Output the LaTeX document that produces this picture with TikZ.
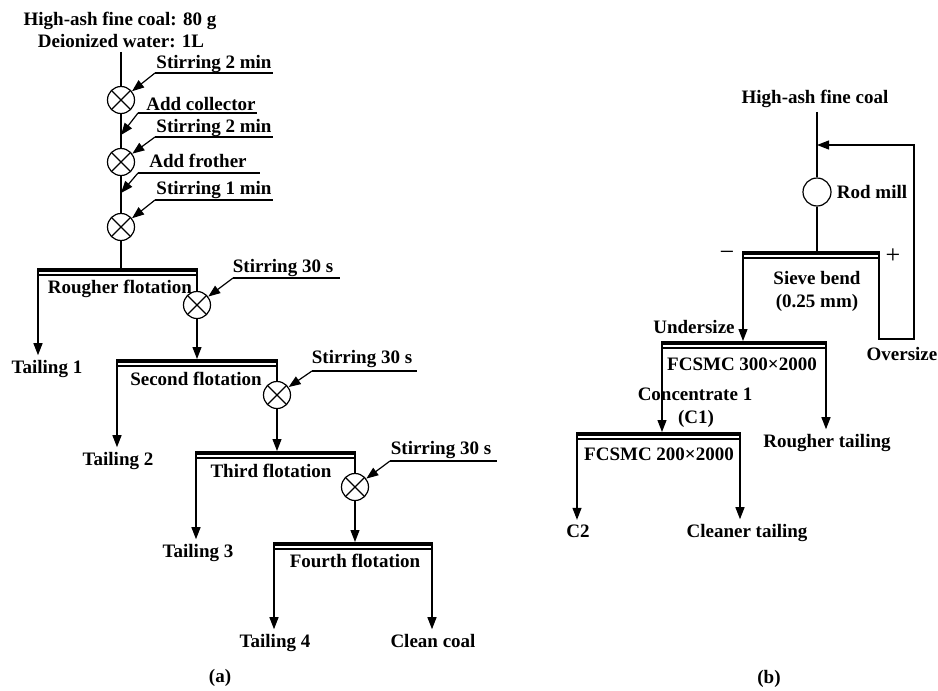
\documentclass[tikz,border=0pt]{standalone}
\usepackage{fontspec}
\setmainfont{Liberation Serif}
\usetikzlibrary{arrows.meta}

\tikzset{
  lbl/.style={font=\fontsize{9.5}{11}\selectfont\bfseries, inner sep=2pt, anchor=base},
  sign/.style={font=\fontsize{13}{13}\selectfont, inner sep=0pt},
  flow/.style={-{Triangle[length=6pt,width=4.5pt]}},
  mixer/.style={circle, draw, inner sep=0pt, minimum size=13.5pt,
    path picture={\draw (path picture bounding box.north west) -- (path picture bounding box.south east)
      (path picture bounding box.north east) -- (path picture bounding box.south west);}},
  rodmill/.style={circle, draw, inner sep=0pt, minimum size=14pt}
}
\newcommand{\flotbar}[4]{%
  \coordinate (#1-l) at (#2,#4);
  \coordinate (#1-r) at (#3,#4);
  \draw[line width=2pt] (#2,{#4+2}) -- (#3,{#4+2});
  \draw (#2,{#4+7}) -- (#3,{#4+7});}

\begin{document}
\begin{tikzpicture}[x=0.5pt, y=-0.5pt, line width=0.6pt]
\useasboundingbox (0,0) rectangle (938,691);

\node[lbl] (feed1) at (120,25) {High-ash fine coal: 80 g};
\node[lbl] (feed2) at (121,47) {Deionized water: 1L};
\node[mixer] (s1) at (121,100) {};
\node[mixer] (s2) at (121,162) {};
\node[mixer] (s3) at (121,227) {};
\coordinate (m1) at (121,135);
\coordinate (m2) at (121,193);

\node[lbl] (st1) at (214,68) {Stirring 2 min};
\node[lbl] (col) at (201,110) {Add collector};
\node[lbl] (st2) at (214,132) {Stirring 2 min};
\node[lbl] (fro) at (198,167) {Add frother};
\node[lbl] (st3) at (214,194) {Stirring 1 min};
\coordinate (u1) at (155,73);
\coordinate (u2) at (138,113);
\coordinate (u3) at (155,137);
\coordinate (u4) at (138,173);
\coordinate (u5) at (155,200);

\flotbar{rough}{38}{197}{268}
\flotbar{sec}{117}{277}{359}
\flotbar{third}{196}{355}{451}
\flotbar{fourth}{274}{432}{542}
\node[mixer] (c1) at (197,305) {};
\node[mixer] (c2) at (277,395) {};
\node[mixer] (c3) at (355,487) {};

\node[lbl] (rtxt) at (120,293) {Rougher flotation};
\node[lbl] (stxt) at (196,385) {Second flotation};
\node[lbl] (ttxt) at (271,477) {Third flotation};
\node[lbl] (ftxt) at (355,567) {Fourth flotation};
\node[lbl] (st4) at (283,272) {Stirring 30 s};
\node[lbl] (st5) at (362,363) {Stirring 30 s};
\node[lbl] (st6) at (441,454) {Stirring 30 s};
\coordinate (u6) at (233,278);
\coordinate (u7) at (312,371);
\coordinate (u8) at (390,461);

\node[lbl] (tail1) at (47,373) {Tailing 1};
\node[lbl] (tail2) at (118,465) {Tailing 2};
\node[lbl] (tail3) at (198,557) {Tailing 3};
\node[lbl] (tail4) at (275,647) {Tailing 4};
\node[lbl] (clean) at (433,647) {Clean coal};
\node[lbl] (capa) at (220,682) {(a)};

\draw (feed2.south -| s1) -- (s1) -- (s2) -- (s3) -- (s3 |- rough-l);
\draw (u1) -- ++(118,0);
\draw (u2) -- ++(119,0);
\draw (u3) -- ++(118,0);
\draw (u4) -- ++(122,0);
\draw (u5) -- ++(118,0);
\draw[flow] (u1) -- (s1);
\draw[flow] (u2) -- (m1);
\draw[flow] (u3) -- (s2);
\draw[flow] (u4) -- (m2);
\draw[flow] (u5) -- (s3);

\draw (rough-r) -- (c1);
\draw (sec-r) -- (c2);
\draw (third-r) -- (c3);
\draw[flow] (c1) -- (c1 |- sec-l);
\draw[flow] (c2) -- (c2 |- third-l);
\draw[flow] (c3) -- (c3 |- fourth-l);
\draw (u6) -- ++(107,0);
\draw (u7) -- ++(105,0);
\draw (u8) -- ++(107,0);
\draw[flow] (u6) -- (c1);
\draw[flow] (u7) -- (c2);
\draw[flow] (u8) -- (c3);

\draw[flow] (rough-l) -- (rough-l |- tail1.north);
\draw[flow] (sec-l) -- (sec-l |- tail2.north);
\draw[flow] (third-l) -- (third-l |- tail3.north);
\draw[flow] (fourth-l) -- (fourth-l |- tail4.north);
\draw[flow] (fourth-r) -- (fourth-r |- clean.north);

\node[lbl] (feedb) at (815,103) {High-ash fine coal};
\node[rodmill] (mill) at (817,192) {};
\node[lbl] (milltxt) at (872,198) {Rod mill};
\coordinate (join) at (817,145);
\coordinate (loop) at (914,339);
\flotbar{sieve}{743}{879}{251}
\flotbar{fa}{662}{826}{341}
\flotbar{fb}{577}{740}{432}
\node[sign] (minus) at (727,256) {−};
\node[sign] (plus) at (893,256) {+};
\node[lbl] (sbtxt) at (817,284) {Sieve bend};
\node[lbl] (sbsize) at (817,307) {(0.25 mm)};
\node[lbl] (under) at (694,333) {Undersize};
\node[lbl] (over) at (902,360) {Oversize};
\node[lbl] (fatxt) at (742,370) {FCSMC 300×2000};
\node[lbl] (conc) at (695,400) {Concentrate 1};
\node[lbl] (conc1) at (696,423) {(C1)};
\node[lbl] (rtail) at (827,447) {Rougher tailing};
\node[lbl] (fbtxt) at (659,460) {FCSMC 200×2000};
\node[lbl] (c2txt) at (578,537) {C2};
\node[lbl] (ctail) at (747,537) {Cleaner tailing};
\node[lbl] (capb) at (769,683) {(b)};

\draw (feedb.south -| mill) -- (mill) -- (mill |- sieve-l);
\draw[flow] (sieve-r) |- (loop) |- (join);
\draw[flow] (sieve-l) -- (sieve-l |- fa-l);
\draw[flow] (fa-l) -- (fa-l |- fb-l);
\draw[flow] (fa-r) -- (fa-r |- rtail.north);
\draw[flow] (fb-l) -- (fb-l |- c2txt.north);
\draw[flow] (fb-r) -- (fb-r |- ctail.north);
\end{tikzpicture}
\end{document}
